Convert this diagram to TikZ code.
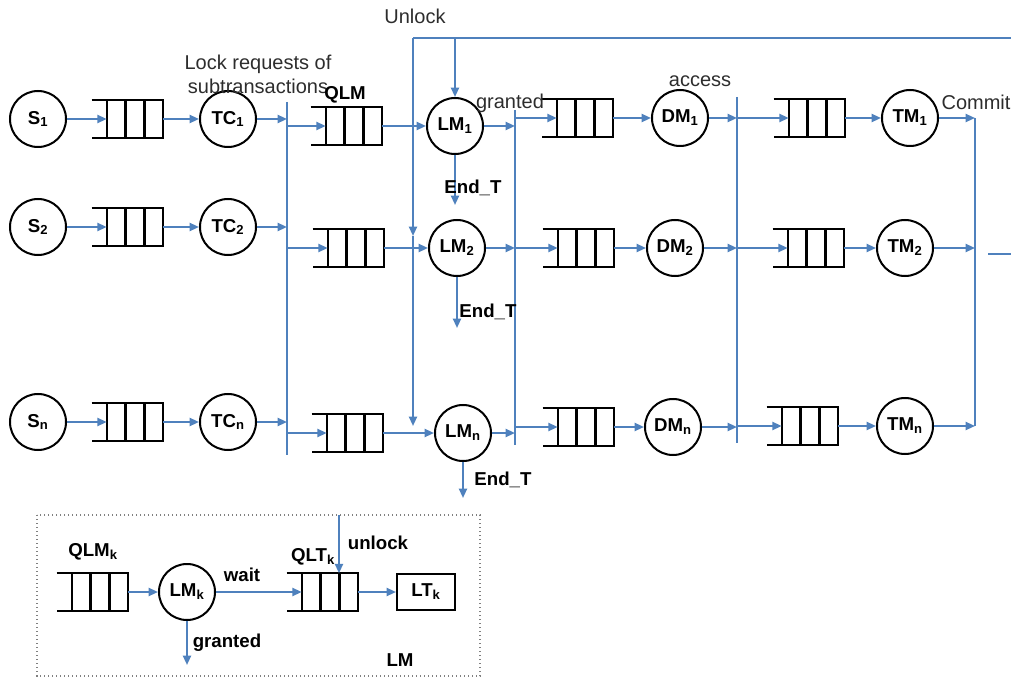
\documentclass[tikz,border=0pt]{standalone}
\usepackage{fontspec}
\setmainfont{Liberation Sans}
\usetikzlibrary{arrows.meta,calc}
\definecolor{cblue}{RGB}{79,129,189}
\definecolor{ctext}{RGB}{45,45,45}
\tikzset{
  proc/.style={circle,draw=black,line width=1.5pt,minimum size=42pt,inner sep=0pt,font=\fontsize{14}{16}\selectfont\bfseries},
  qbox/.style={rectangle,draw=none,minimum width=42pt,minimum height=27.75pt,inner sep=0pt},
  qline/.style={draw=black,line width=1.8pt},
  conn/.style={draw=cblue,line width=1.5pt},
  arr/.style={conn,-{Triangle[length=7pt,width=6pt]}},
  lbl/.style={font=\fontsize{15}{18}\selectfont,text=ctext,inner sep=0pt},
  blbl/.style={font=\fontsize{14}{16}\selectfont\bfseries,inner sep=0pt},
  ltbox/.style={rectangle,draw=black,line width=1.5pt,minimum width=43.5pt,minimum height=27pt,inner sep=0pt,font=\fontsize{14}{16}\selectfont\bfseries},
  insetbox/.style={draw=gray,dotted,line width=1pt},
}
\newcommand\myqueue[3]{%
  \node[qbox] (#1) at (#2,#3) {};
  \draw[qline] ($(#1.north west)+(-15,0)$) -- (#1.north east) -- (#1.south east) -- ($(#1.south west)+(-15,0)$);
  \draw[qline] (#1.north west) -- (#1.south west);
  \draw[qline] ($(#1.north west)!1/3!(#1.north east)$) -- ($(#1.south west)!1/3!(#1.south east)$);
  \draw[qline] ($(#1.north west)!2/3!(#1.north east)$) -- ($(#1.south west)!2/3!(#1.south east)$);
}
\begin{document}
\begin{tikzpicture}[x=0.75pt,y=-0.75pt]
\useasboundingbox (0,0) rectangle (1011,681);

% bars
\coordinate (b1t) at (287,102); \coordinate (b1b) at (287,455);
\coordinate (b2t) at (515,110); \coordinate (b2b) at (515,445);
\coordinate (b3t) at (737,97);  \coordinate (b3b) at (737,443);
\coordinate (cbt) at (975,118); \coordinate (cbb) at (975,426);
\draw[conn] (b1t) -- (b1b);
\draw[conn] (b2t) -- (b2b);
\draw[conn] (b3t) -- (b3b);
\draw[conn] (cbt) -- (cbb);

% sources and TCs
\node[proc] (s1) at (38,119) {S\textsubscript{1}};
\node[proc] (s2) at (38,227) {S\textsubscript{2}};
\node[proc] (sn) at (38,422) {S\textsubscript{n}};
\myqueue{qs1}{135}{119}
\myqueue{qs2}{135}{227}
\myqueue{qsn}{135}{422}
\node[proc] (tc1) at (228,119) {TC\textsubscript{1}};
\node[proc] (tc2) at (228,227) {TC\textsubscript{2}};
\node[proc] (tcn) at (228,422) {TC\textsubscript{n}};

% lock manager column
\myqueue{ql1}{354}{126}
\myqueue{ql2}{356}{248}
\myqueue{qln}{355}{433}
\node[proc] (lm1) at (455,126) {LM\textsubscript{1}};
\node[proc] (lm2) at (457,248) {LM\textsubscript{2}};
\node[proc] (lmn) at (463,433) {LM\textsubscript{n}};

% data managers
\myqueue{qd1}{585}{118}
\myqueue{qd2}{586}{248}
\myqueue{qdn}{586}{427}
\node[proc] (dm1) at (680,118) {DM\textsubscript{1}};
\node[proc] (dm2) at (675,248) {DM\textsubscript{2}};
\node[proc] (dmn) at (673,427) {DM\textsubscript{n}};

% transaction managers
\myqueue{qt1}{817}{118}
\myqueue{qt2}{816}{248}
\myqueue{qtn}{810}{426}
\node[proc] (tm1) at (910,118) {TM\textsubscript{1}};
\node[proc] (tm2) at (905,248) {TM\textsubscript{2}};
\node[proc] (tmn) at (905,426) {TM\textsubscript{n}};

% row connectors
\foreach \r in {1,2,n}{
  \draw[arr] (s\r) -- (qs\r.west);
  \draw[arr] (qs\r.east) -- (tc\r);
  \draw[arr] (tc\r.east) -- (tc\r.east -| b1t);
  \draw[arr] (ql\r.west -| b1t) -- (ql\r.west);
  \draw[arr] (ql\r.east) -- (lm\r.west |- ql\r.east);
  \draw[arr] (lm\r.east) -- (lm\r.east -| b2t);
  \draw[arr] (qd\r.west -| b2t) -- (qd\r.west);
  \draw[arr] (qd\r.east) -- (dm\r);
  \draw[arr] (dm\r.east) -- (dm\r.east -| b3t);
  \draw[arr] (qt\r.west -| b3t) -- (qt\r.west);
  \draw[arr] (qt\r.east) -- (tm\r);
  \draw[arr] (tm\r.east) -- (tm\r.east -| cbt);
}

% unlock feedback
\coordinate (ur) at (1011,38);
\coordinate (ul) at (413,38);
\coordinate (um) at (413,236);
\coordinate (ub) at (413,426);
\coordinate (u1) at (455,38);
\draw[conn] (ur) -- (ul);
\draw[arr] (ul) -- (um);
\draw[arr] (um) -- (ub);
\draw[arr] (u1) -- (lm1.north);

% End_T arrows
\coordinate (e1) at (455,205);
\coordinate (e2) at (457,328);
\coordinate (en) at (463,498);
\draw[arr] (lm1.south) -- (e1);
\draw[arr] (lm2.south) -- (e2);
\draw[arr] (lmn.south) -- (en);

% output line
\coordinate (o1) at (988,254);
\coordinate (o2) at (1011,254);
\draw[conn] (o1) -- (o2);

% labels
\node[lbl] (tunlock) at (415,16) {Unlock};
\node[lbl,align=center] (tlock) at (258,74) {Lock requests of\\subtransactions};
\node[blbl] (tqlm) at (345,95) {QLM};
\node[lbl] (tgranted) at (510,103) {granted};
\node[blbl] (tend1) at (473,188) {End\_T};
\node[blbl] (tend2) at (488,312) {End\_T};
\node[blbl] (tendn) at (503,480) {End\_T};
\node[lbl] (taccess) at (700,81) {access};
\node[lbl] (tcommit) at (976,102) {Commit};

% inset: LM internals
\draw[insetbox] (37,515) rectangle (480,676);
\myqueue{qk1}{100}{592}
\myqueue{qk2}{330}{592}
\node[proc] (lmk) at (187,592) {LM\textsubscript{k}};
\node[ltbox] (ltk) at (426,592) {LT\textsubscript{k}};
\draw[arr] (qk1.east) -- (lmk);
\draw[arr] (lmk.east) -- (qk2.west);
\draw[arr] (qk2.east) -- (ltk);
\coordinate (uk) at (339,515);
\draw[arr] (uk) -- (uk |- qk2.north);
\coordinate (gk) at (187,665);
\draw[arr] (lmk.south) -- (gk);
\node[blbl] (tqlmk) at (93,552) {QLM\textsubscript{k}};
\node[blbl] (twait) at (242,575) {wait};
\node[blbl] (tqltk) at (313,557) {QLT\textsubscript{k}};
\node[blbl] (tunlk) at (378,543) {unlock};
\node[blbl] (tgrk) at (227,643) {granted};
\node[blbl] (tlm) at (400,660) {LM};
\end{tikzpicture}
\end{document}
